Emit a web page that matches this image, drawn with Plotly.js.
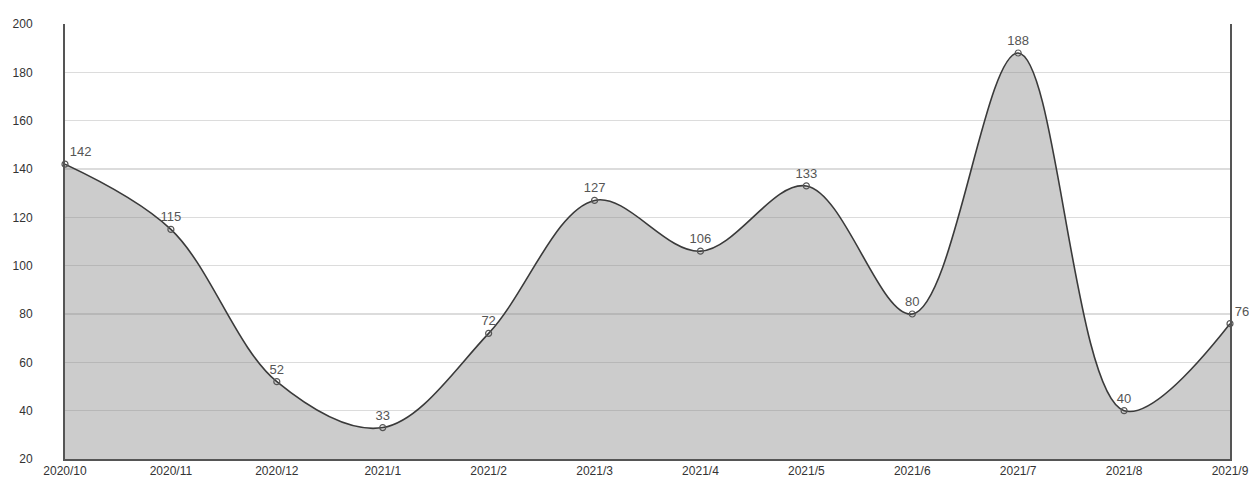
<!DOCTYPE html>
<html>
<head>
<meta charset="utf-8">
<script src="https://cdn.plot.ly/plotly-3.0.1.min.js"></script>
<style>html,body{margin:0;padding:0;background:#fff;}#chart{width:1249px;height:478px;}</style>
</head>
<body>
<div id="chart"></div>
<script>
const months = ['2020/10','2020/11','2020/12','2021/1','2021/2','2021/3','2021/4','2021/5','2021/6','2021/7','2021/8','2021/9'];
const values = [142,115,52,33,72,127,106,133,80,188,40,76];
const yTicks = [20,40,60,80,100,120,140,160,180,200];

const FONT = '"Liberation Sans Narrow", "Arial Narrow", Arial, "Liberation Sans", sans-serif';
const positions = values.map((v,i)=> (i===0 || i===values.length-1) ? 'top right' : 'top center');

const trace = {
  x: months,
  y: values,
  type: 'scatter',
  mode: 'lines+markers+text',
  line: {shape: 'spline', smoothing: 1, color: '#3a3a3a', width: 1.6},
  fill: 'tozeroy',
  fillcolor: 'rgba(128,128,128,0.4)',
  marker: {symbol: 'circle-open', size: 6, color: '#555', line: {width: 1.2, color: '#555'}},
  text: values.map(String),
  textposition: positions,
  textfont: {family: FONT, size: 13, color: '#555'},
  cliponaxis: false,
  hoverinfo: 'x+y'
};

const layout = {
  width: 1249, height: 478,
  margin: {l: 65, r: 19, t: 24, b: 19},
  paper_bgcolor: '#fff', plot_bgcolor: '#fff',
  showlegend: false,
  font: {family: FONT, size: 12, color: '#333'},
  xaxis: {
    type: 'category',
    categoryarray: months,
    range: [0, months.length-1],
    showgrid: false,
    showline: true, linecolor: '#555', linewidth: 2,
    mirror: false,
    ticks: '',
    ticklabelstandoff: 0,
    tickfont: {family: FONT, size: 12, color: '#333'},
    zeroline: false,
    fixedrange: true
  },
  yaxis: {
    range: [20, 200],
    tickvals: yTicks,
    showgrid: true, gridcolor: '#dcdcdc', gridwidth: 1.5,
    showline: true, linecolor: '#555', linewidth: 2,
    mirror: true,
    ticks: '',
    ticklabelstandoff: 28,
    tickfont: {family: FONT, size: 12, color: '#333'},
    zeroline: false,
    fixedrange: true
  }
};

Plotly.newPlot('chart', [trace], layout, {displayModeBar: false, staticPlot: true});
</script>
</body>
</html>
